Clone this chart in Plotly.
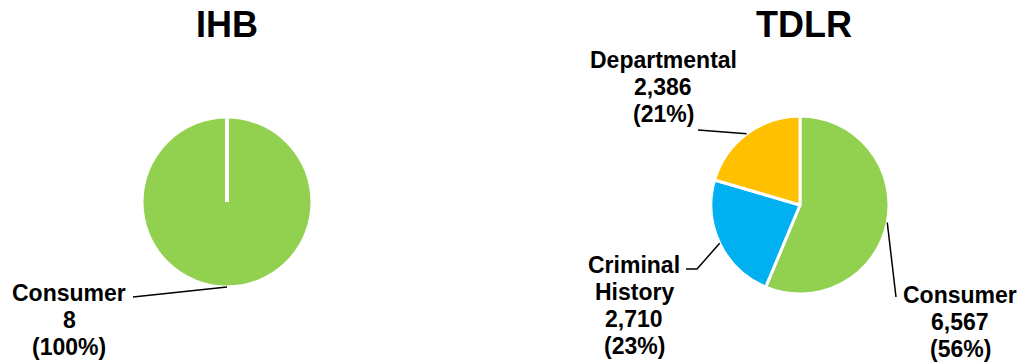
import math
import plotly.graph_objects as go

# ---- data ----
ihb_labels = ["Consumer"]
ihb_values = [8]
ihb_pct = ["100%"]

tdlr_labels = ["Consumer", "Criminal History", "Departmental"]
tdlr_values = [6567, 2710, 2386]
tdlr_pct = ["56%", "23%", "21%"]

colors = {"Consumer": "#92D050", "Criminal History": "#00B0F0", "Departmental": "#FFC000"}

W, H = 1023, 362
FONT = "Liberation Sans, Arial, sans-serif"


def px(x):
    return x / W


def py(y):
    return 1 - y / H


pies = [
    dict(title="IHB", labels=ihb_labels, values=ihb_values, pct=ihb_pct,
         cx=227, cy=202, r=85, tx=227, ty=25,
         label_pos=[(69, 293)],
         leader=[[(133, 297)]]),
    dict(title="TDLR", labels=tdlr_labels, values=tdlr_values, pct=tdlr_pct,
         cx=800, cy=205, r=89, tx=804, ty=25,
         label_pos=[(960, 295), (634, 265), (663, 60)],
         leader=[[(896, 297)], [(697, 269), (686, 269)], [(698, 130)]]),
]

fig = go.Figure()
annotations = []
shapes = []
LINE_H = 27

for p in pies:
    cx, cy, r = p["cx"], p["cy"], p["r"]
    fig.add_trace(go.Pie(
        labels=p["labels"], values=p["values"],
        marker=dict(colors=[colors[l] for l in p["labels"]], line=dict(color="white", width=3)),
        sort=False, direction="clockwise", rotation=0,
        textinfo="none", hoverinfo="label+value+percent", showlegend=False,
        domain=dict(x=[px(cx - r), px(cx + r)], y=[py(cy + r), py(cy - r)]),
    ))
    annotations.append(dict(
        x=px(p["tx"]), y=py(p["ty"]), xref="paper", yref="paper",
        text="<b>%s</b>" % p["title"], showarrow=False,
        xanchor="center", yanchor="middle",
        font=dict(family=FONT, size=36, color="black"),
    ))
    total = sum(p["values"])
    cum = 0
    for i, (lab, val, pc) in enumerate(zip(p["labels"], p["values"], p["pct"])):
        frac = (cum + val / 2) / total
        cum += val
        th = 2 * math.pi * frac
        ex, ey = cx + r * math.sin(th), cy - r * math.cos(th)
        pts = [(ex, ey)] + p["leader"][i]
        path = "M " + " L ".join("%f,%f" % (px(a), py(b)) for a, b in pts)
        shapes.append(dict(type="path", path=path, xref="paper", yref="paper",
                           line=dict(color="black", width=1.5)))
        lines = lab.split(" ") + ["{:,}".format(val), "(%s)" % pc]
        lx, ly = p["label_pos"][i]
        for j, t in enumerate(lines):
            annotations.append(dict(
                x=px(lx), y=py(ly + j * LINE_H), xref="paper", yref="paper",
                text="<b>%s</b>" % t, showarrow=False,
                xanchor="center", yanchor="middle",
                font=dict(family=FONT, size=23, color="black"),
            ))
    if len(p["values"]) == 1:
        # separator edge of the single full slice (start at 12 o'clock)
        shapes.append(dict(type="line", xref="paper", yref="paper",
                           x0=px(cx), y0=py(cy - r), x1=px(cx), y1=py(cy),
                           line=dict(color="white", width=4)))

fig.update_layout(
    width=W, height=H, autosize=False,
    margin=dict(l=0, r=0, t=0, b=0),
    paper_bgcolor="white", plot_bgcolor="white",
    annotations=annotations, shapes=shapes,
)

fig.write_html("out.html",
               config={"displayModeBar": False},
               post_script="document.body.style.margin='0px';document.body.style.overflow='hidden';")
